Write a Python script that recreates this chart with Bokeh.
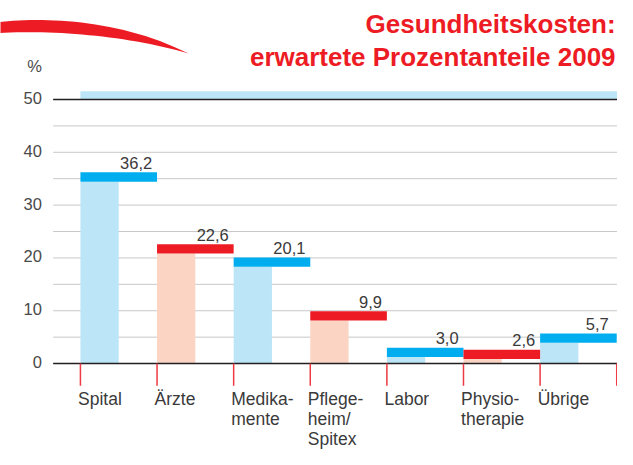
from bokeh.plotting import figure
from bokeh.models import Range1d
from bokeh.embed import file_html
from bokeh.resources import INLINE
from bokeh.core.properties import value

# ---- data -------------------------------------------------------------
categories = ["Spital", "Ärzte", "Medika-\nmente", "Pflege-\nheim/\nSpitex",
              "Labor", "Physio-\ntherapie", "Übrige"]
shares = [36.2, 22.6, 20.1, 9.9, 3.0, 2.6, 5.7]
share_labels = ["36,2", "22,6", "20,1", "9,9", "3,0", "2,6", "5,7"]
y_ticks = [0, 10, 20, 30, 40, 50]
y_tick_labels = ["0", "10", "20", "30", "40", "50"]
minor_grid = [5, 10, 15, 20, 25, 30, 35, 40, 45]
title_lines = ["Gesundheitskosten:", "erwartete Prozentanteile 2009"]
unit_label = "%"

# ---- layout: reference-picture pixels (633x465) -> data ----------------
W, H = 617, 449
REF_W, REF_H = 633, 465
X_ORIGIN = 82        # reference x of the first category boundary
X_SCALE = 78.6       # reference px per category
Y_ORIGIN = 376       # reference y of value 0
Y_SCALE = 5.47       # reference px per percent
TXT = 0.32           # baseline compensation (em)


def dx(px):
    return px / X_SCALE


def dy(px):
    return px / Y_SCALE


def page_x(px):
    return (px - X_ORIGIN) / X_SCALE


def page_y(py):
    return (Y_ORIGIN - py) / Y_SCALE


x_start, x_end = page_x(0), page_x(REF_W)
y_start, y_end = page_y(REF_H), page_y(0)

p = figure(width=W, height=H, x_range=Range1d(x_start, x_end),
           y_range=Range1d(y_start, y_end), output_backend="svg",
           toolbar_location=None, min_border=0, x_axis_type=None,
           y_axis_type=None, outline_line_color=None,
           background_fill_color="white", border_fill_color="white")

FONT = value("Liberation Sans")
BLUE, LBLUE = "#00aeef", "#bde5f8"
RED, LRED = "#ed1c24", "#fcd4c3"
n = len(shares)
idx = list(range(n))
cap_colors = [BLUE if i % 2 == 0 else RED for i in idx]
fill_colors = [LBLUE if i % 2 == 0 else LRED for i in idx]
cap_h = dy(9.6)


# decorative swoosh (cubic bezier edges, reference px)
def bez(p0, c1, c2, p3, k=30):
    pts = []
    for j in range(k + 1):
        t = j / k
        a, b, c, d = (1 - t) ** 3, 3 * t * (1 - t) ** 2, 3 * t * t * (1 - t), t ** 3
        pts.append((a * p0[0] + b * c1[0] + c * c2[0] + d * p3[0],
                    a * p0[1] + b * c1[1] + c * c2[1] + d * p3[1]))
    return pts


upper = bez((-8, 23), (40, 17), (120, 18), (193, 55))
lower = bez((-8, 34), (50, 30), (130, 36), (193, 55))
outline = upper + lower[::-1]
p.patch([page_x(a) for a, b in outline], [page_y(b) for a, b in outline],
        fill_color=RED, line_color=None)

# top light band
p.quad(left=[0], right=[x_end], bottom=[y_ticks[-1]],
       top=[y_ticks[-1] + dy(8.5)], fill_color=LBLUE, line_color=None)

# grid lines
gx0 = page_x(54)
p.segment(x0=[gx0] * len(minor_grid), y0=minor_grid, x1=[x_end] * len(minor_grid),
          y1=minor_grid, line_color="#c8c8c8", line_width=1)

# bars: light fill + thick cap
p.quad(left=idx, right=[i + 0.5 for i in idx], bottom=[0] * n,
       top=[v - cap_h for v in shares], fill_color=fill_colors, line_color=None)
p.quad(left=idx, right=[i + 1 for i in idx], bottom=[v - cap_h for v in shares],
       top=shares, fill_color=cap_colors, line_color=None)

# 0 and 50 lines
p.segment(x0=[gx0] * 2, y0=[y_ticks[0], y_ticks[-1]], x1=[x_end] * 2,
          y1=[y_ticks[0], y_ticks[-1]], line_color="#231f20", line_width=1.6)

# red category ticks
bounds = list(range(n + 1))
p.segment(x0=bounds, y0=[0] * len(bounds), x1=bounds, y1=[-dy(23)] * len(bounds),
          line_color="#ee3a42", line_width=1.5)

# value labels
VS = 16.5
lab_x = [min(i + 1 - dx(5), x_end - dx(9)) for i in idx]
p.text(x=lab_x, y=[v + dy(4.5 + TXT * VS) for v in shares], text=share_labels,
       text_font=FONT, text_font_size=f"{VS}px", text_color="#3a3a3a",
       text_align="right", text_baseline="alphabetic")

# y tick labels
p.text(x=[page_x(42.5)] * len(y_ticks), y=[t - dy(3.7 - TXT * VS) for t in y_ticks],
       text=y_tick_labels, text_font=FONT, text_font_size=f"{VS}px",
       text_color="#4a4a4a", text_align="right", text_baseline="alphabetic")
p.text(x=[page_x(42.5)], y=[page_y(73 - TXT * VS)], text=[unit_label], text_font=FONT,
       text_font_size=f"{VS}px", text_color="#4a4a4a", text_align="right",
       text_baseline="alphabetic")

# category labels
p.text(x=[i - dx(2.5) for i in idx], y=[page_y(402)] * n, text=categories,
       text_font=FONT, text_font_size="17.5px", text_color="#3a3a3a",
       text_align="left", text_baseline="top", text_line_height=1.0)

# title
TS = 26
p.text(x=[page_x(631)] * 2, y=[page_y(33 - TXT * TS), page_y(67 - TXT * TS)],
       text=title_lines, text_font=FONT, text_font_size=f"{TS}px",
       text_font_style="bold", text_color=RED, text_align="right",
       text_baseline="alphabetic")

open("out.html", "w").write(file_html(p, INLINE))
